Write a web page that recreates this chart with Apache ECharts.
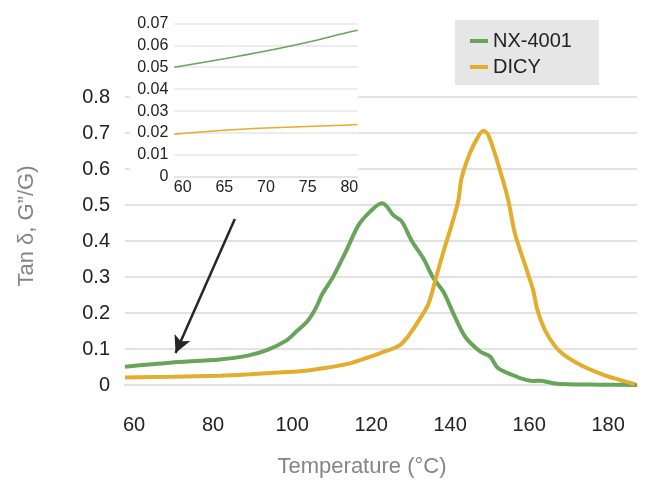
<!DOCTYPE html>
<html>
<head>
<meta charset="utf-8">
<script src="https://cdn.jsdelivr.net/npm/echarts@6/dist/echarts.min.js"></script>
<style>
  html, body { margin: 0; padding: 0; background: #fff; }
  #chart { width: 651px; height: 487px; }
</style>
</head>
<body>
<div id="chart"></div>
<script>
// main curves (temperature in °C, tan delta)
var nxTemp = [57.7, 69.1, 81.7, 88.5, 93.6, 98.6, 101.2, 103.7, 105.3, 106.5, 107.5, 110.4, 113.8, 116.8, 119.7, 122.7, 123.9, 125.6, 127.7, 130.3, 133.2, 135.7, 138.3, 140.8, 143.8, 147.6, 150.1, 152.2, 156.9, 157.7, 161.0, 162.7, 166.0, 169.5, 177.9, 187.3];
var nxTan = [0.051, 0.062, 0.071, 0.081, 0.097, 0.124, 0.150, 0.175, 0.200, 0.225, 0.250, 0.301, 0.375, 0.444, 0.481, 0.505, 0.497, 0.472, 0.455, 0.400, 0.352, 0.298, 0.259, 0.199, 0.134, 0.093, 0.079, 0.046, 0.023, 0.019, 0.011, 0.012, 0.005, 0.002, 0.001, 0.000];

var dicyTemp = [57.7, 70.0, 81.7, 89.3, 95.5, 102.0, 108.3, 114.6, 118.0, 122.2, 127.3, 130.0, 132.4, 134.5, 136.6, 138.3, 140.8, 142.1, 142.9, 145.0, 147.1, 148.4, 149.7, 152.6, 154.7, 156.4, 159.4, 161.0, 162.1, 164.4, 167.8, 172.9, 178.8, 183.0, 186.8];
var dicyTan = [0.021, 0.023, 0.026, 0.030, 0.034, 0.038, 0.047, 0.060, 0.072, 0.088, 0.111, 0.145, 0.185, 0.225, 0.305, 0.370, 0.460, 0.514, 0.575, 0.644, 0.690, 0.706, 0.694, 0.597, 0.514, 0.421, 0.319, 0.264, 0.208, 0.144, 0.093, 0.056, 0.028, 0.014, 0.002];

// inset (60-80 °C zoom)
var insetTemp = [59, 65, 70, 75, 80, 81];
var insetNx = [0.0500, 0.0539, 0.0574, 0.0614, 0.0660, 0.0668];
var insetDicy = [0.0195, 0.0213, 0.0223, 0.0230, 0.0237, 0.0239];

var xTicks = [60, 80, 100, 120, 140, 160, 180];
var insetXTicks = [60, 65, 70, 75, 80];

// arrow: from [temp, tan] to [temp, tan]
var arrowFrom = [85.5, 0.461];
var arrowTo = [70.5, 0.089];

var green = '#67a55b';
var yellow = '#e3ad2d';
var font = "'Liberation Sans', Arial, Helvetica, sans-serif";

function pairs(xs, ys) {
    var out = [];
    for (var i = 0; i < xs.length; i++) {
        out.push([xs[i], ys[i]]);
    }
    return out;
}

var myChart = echarts.init(document.getElementById('chart'));

var option = {
    backgroundColor: '#fff',
    textStyle: { fontFamily: font },
    animation: false,
    legend: {
        data: ['NX-4001', 'DICY'],
        orient: 'vertical',
        left: 455,
        top: 20,
        icon: 'rect',
        itemWidth: 18,
        itemHeight: 4,
        itemGap: 6,
        padding: [11, 27, 8, 15],
        backgroundColor: '#e6e6e6',
        textStyle: { fontSize: 20, color: '#222', fontFamily: font, lineHeight: 20 }
    },
    graphic: [{
        type: 'rect',
        z: 1,
        shape: { x: 130, y: 0, width: 228, height: 198 },
        style: { fill: '#fff' }
    }],
    grid: [
        { left: 125, right: 14, top: 97, bottom: 102 },
        { left: 174.3, right: 293.3, top: 23.3, bottom: 310 }
    ],
    xAxis: [{
        gridIndex: 0,
        type: 'value',
        min: 57.7,
        max: 187.3,
        name: 'Temperature (°C)',
        nameLocation: 'middle',
        nameGap: 71,
        nameTextStyle: { fontSize: 22, color: '#858585', fontFamily: font, padding: [0, 38, 0, 0] },
        axisLine: { show: true, lineStyle: { color: '#e2e2e2', width: 2 } },
        axisTick: { show: false },
        splitLine: { show: false },
        axisLabel: { customValues: xTicks, fontSize: 20, color: '#222', margin: 30 }
    }, {
        gridIndex: 1,
        type: 'value',
        min: 59,
        max: 81,
        z: 5,
        axisLine: { show: true, lineStyle: { color: '#e2e2e2', width: 1.5 } },
        axisTick: { show: false },
        splitLine: { show: false },
        axisLabel: { customValues: insetXTicks, fontSize: 16, color: '#222', margin: 3 }
    }],
    yAxis: [{
        gridIndex: 0,
        type: 'value',
        min: 0,
        max: 0.8,
        interval: 0.1,
        name: 'Tan δ, G”/G)',
        nameLocation: 'middle',
        nameGap: 87,
        nameTextStyle: { fontSize: 22, color: '#858585', fontFamily: font, padding: [0, 0, 0, 30] },
        axisLine: { show: false },
        axisTick: { show: false },
        splitLine: { lineStyle: { color: '#e2e2e2', width: 2 } },
        axisLabel: {
            fontSize: 20, color: '#222', margin: 15,
            formatter: function (v) { return v === 0 ? '0' : v.toFixed(1); }
        }
    }, {
        gridIndex: 1,
        type: 'value',
        min: 0,
        max: 0.07,
        interval: 0.01,
        z: 5,
        axisLine: { show: false },
        axisTick: { show: false },
        splitLine: { lineStyle: { color: '#e6e6e6', width: 1.5 } },
        axisLabel: {
            fontSize: 16, color: '#222', margin: 6,
            formatter: function (v) { return v === 0 ? '0' : v.toFixed(2); }
        }
    }],
    series: [{
        name: 'NX-4001',
        type: 'line',
        xAxisIndex: 0,
        yAxisIndex: 0,
        data: pairs(nxTemp, nxTan),
        smooth: 0.3,
        showSymbol: false,
        color: green,
        lineStyle: { color: green, width: 4 },
        z: 3,
        markLine: {
            silent: true,
            symbol: ['none', 'arrow'],
            symbolSize: [13, 17],
            label: { show: false },
            lineStyle: { color: '#262626', width: 2.5, type: 'solid' },
            data: [[{ coord: arrowFrom }, { coord: arrowTo }]]
        }
    }, {
        name: 'DICY',
        type: 'line',
        xAxisIndex: 0,
        yAxisIndex: 0,
        data: pairs(dicyTemp, dicyTan),
        smooth: 0.3,
        showSymbol: false,
        color: yellow,
        lineStyle: { color: yellow, width: 4 },
        z: 3
    }, {
        name: 'NX-4001',
        type: 'line',
        xAxisIndex: 1,
        yAxisIndex: 1,
        data: pairs(insetTemp, insetNx),
        smooth: 0.3,
        showSymbol: false,
        color: green,
        lineStyle: { color: green, width: 1.5 },
        z: 6
    }, {
        name: 'DICY',
        type: 'line',
        xAxisIndex: 1,
        yAxisIndex: 1,
        data: pairs(insetTemp, insetDicy),
        smooth: 0.3,
        showSymbol: false,
        color: yellow,
        lineStyle: { color: yellow, width: 1.5 },
        z: 6
    }]
};

myChart.setOption(option);

window.addEventListener('resize', function () {
    myChart.resize();
});
</script>
</body>
</html>
